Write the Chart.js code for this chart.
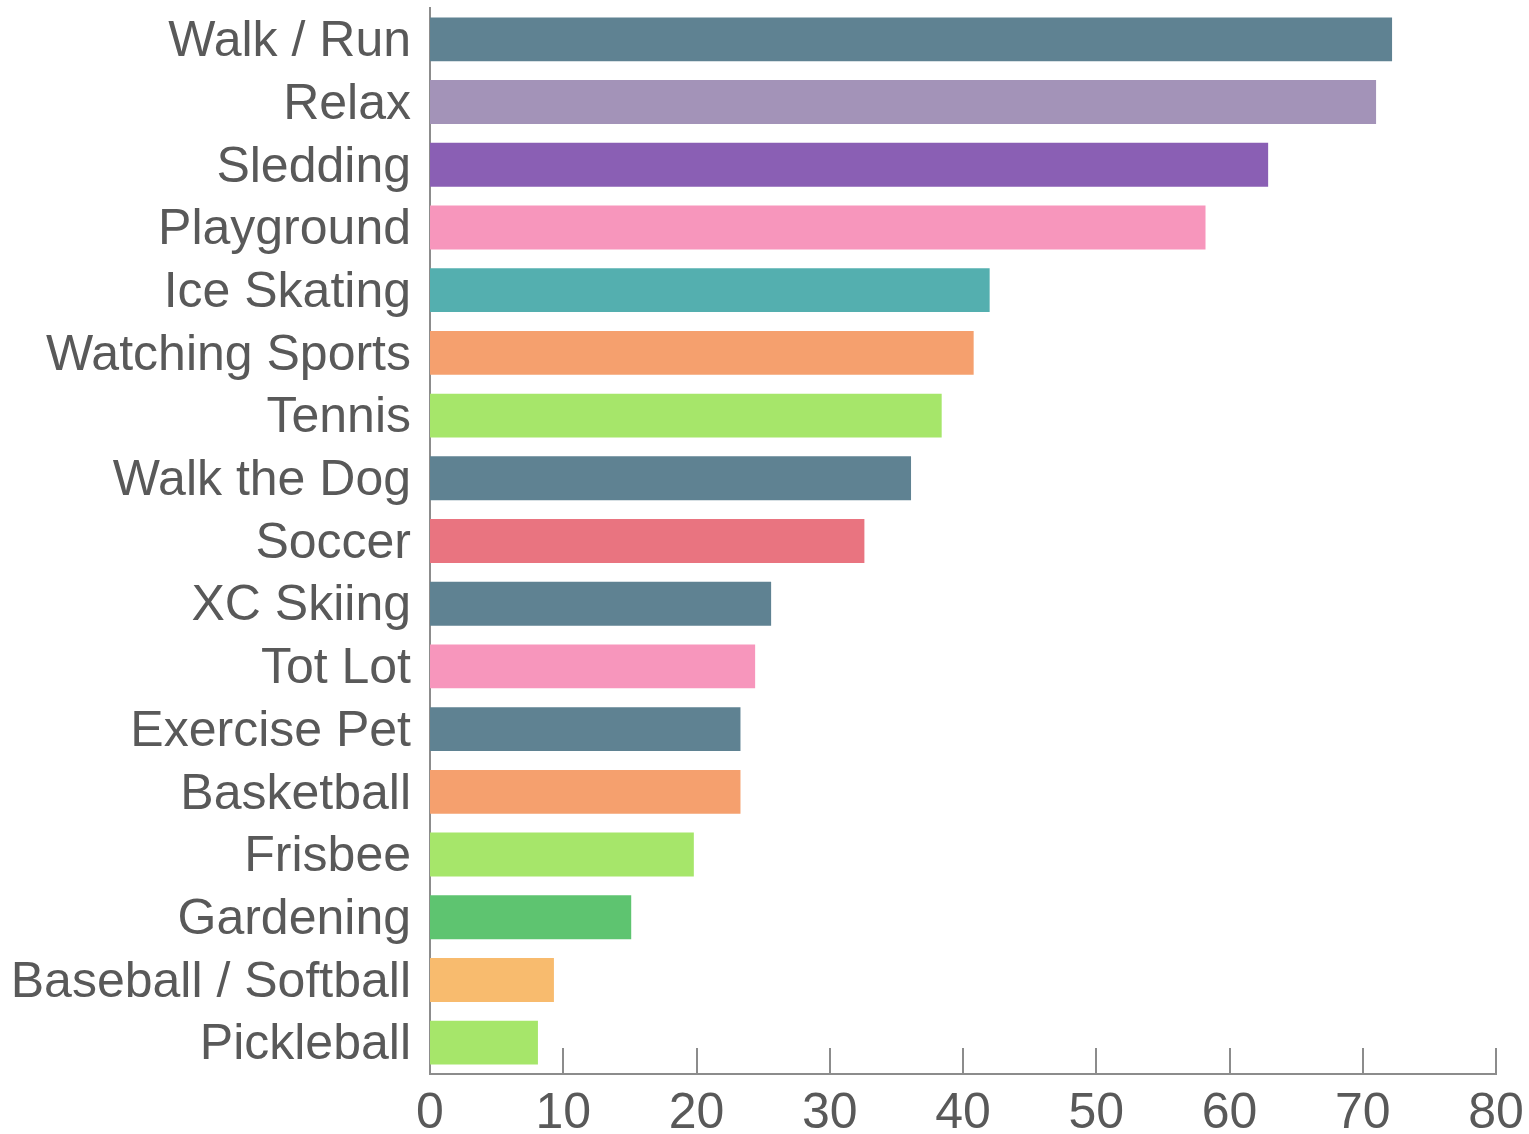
<!DOCTYPE html>
<html>
<head>
<meta charset="utf-8">
<title>Activities</title>
<script src="https://cdn.jsdelivr.net/npm/chart.js@4.4.1/dist/chart.umd.min.js"></script>
<style>
  html, body { margin: 0; padding: 0; background: #fff; }
  #wrap { width: 1529px; height: 1134px; }
</style>
</head>
<body>
<div id="wrap"><canvas id="activityChart"></canvas></div>
<script>
const activities = [
  "Walk / Run", "Relax", "Sledding", "Playground", "Ice Skating",
  "Watching Sports", "Tennis", "Walk the Dog", "Soccer", "XC Skiing",
  "Tot Lot", "Exercise Pet", "Basketball", "Frisbee", "Gardening",
  "Baseball / Softball", "Pickleball"
];
const counts = [72.2, 71, 62.9, 58.2, 42, 40.8, 38.4, 36.1, 32.6, 25.6,
                24.4, 23.3, 23.3, 19.8, 15.1, 9.3, 8.1];
const barColors = [
  "#5f8292", "#a393b8", "#8a5fb4", "#f796bc", "#54afaf",
  "#f5a06e", "#a6e66a", "#5f8292", "#e97480", "#5f8292",
  "#f796bc", "#5f8292", "#f5a06e", "#a6e66a", "#5ec470",
  "#f8bb6e", "#a6e66a"
];
const xTicks = [0, 10, 20, 30, 40, 50, 60, 70, 80];

const textColor = "#595959";
const axisColor = "#8c8c8c";
const labelFont = { family: "'Liberation Sans', Arial, sans-serif", size: 50 };

// short tick marks pointing up from the x axis
const innerTicks = {
  id: "innerTicks",
  afterDatasetsDraw(chart) {
    const x = chart.scales.x;
    const ctx = chart.ctx;
    const bottom = chart.chartArea.bottom;
    ctx.save();
    ctx.strokeStyle = axisColor;
    ctx.lineWidth = 2;
    x.ticks.forEach((t, i) => {
      if (t.value === 0) return;
      const px = Math.round(x.getPixelForTick(i));
      ctx.beginPath();
      ctx.moveTo(px, bottom);
      ctx.lineTo(px, bottom - 26);
      ctx.stroke();
    });
    ctx.restore();
  }
};

new Chart(document.getElementById("activityChart"), {
  type: "bar",
  data: {
    labels: activities,
    datasets: [{
      data: counts,
      backgroundColor: barColors,
      borderWidth: 0,
      barPercentage: 0.7,
      categoryPercentage: 1
    }]
  },
  options: {
    indexAxis: "y",
    responsive: true,
    maintainAspectRatio: false,
    animation: false,
    layout: { padding: { top: 8, right: 33, left: 0, bottom: 0 } },
    plugins: {
      legend: { display: false },
      tooltip: { enabled: false }
    },
    scales: {
      x: {
        min: 0,
        max: 80,
        afterBuildTicks: scale => { scale.ticks = xTicks.map(v => ({ value: v })); },
        afterFit: scale => {
          scale.height = 60;
          scale.paddingLeft = 0;
          scale.paddingRight = 0;
        },
        grid: { display: false, drawTicks: false },
        border: { display: true, color: axisColor, width: 2 },
        ticks: { color: textColor, font: labelFont, padding: 10, maxRotation: 0 }
      },
      y: {
        afterFit: scale => {
          scale.width = 430;
          scale.paddingTop = 0;
          scale.paddingBottom = 0;
        },
        grid: { display: false, drawTicks: false },
        border: { display: true, color: axisColor, width: 2 },
        ticks: { color: textColor, font: labelFont, padding: 19, labelOffset: 3, autoSkip: false }
      }
    }
  },
  plugins: [innerTicks]
});
</script>
</body>
</html>
